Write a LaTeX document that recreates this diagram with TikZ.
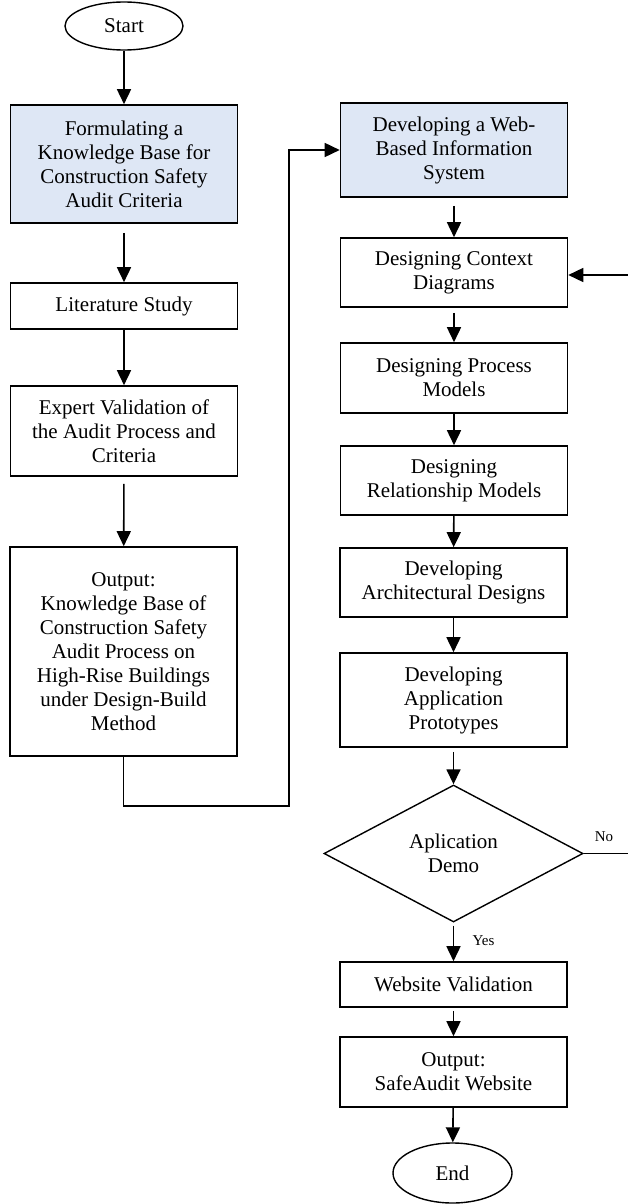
\documentclass[tikz,border=0pt]{standalone}
\usepackage{fontspec}
\setmainfont{Liberation Serif}
\usetikzlibrary{shapes.geometric,arrows.meta}
\definecolor{boxblue}{RGB}{222,231,245}
\begin{document}
\begin{tikzpicture}[x=1pt,y=-1pt,
  every node/.style={font=\fontsize{21}{24}\selectfont, align=center, inner sep=0pt},
  stepbox/.style={draw, line width=1.6pt, minimum width=227pt},
  bluebox/.style={stepbox, fill=boxblue},
  term/.style={draw, line width=1.4pt, ellipse},
  decide/.style={draw, line width=1.4pt, diamond, shape aspect=1.89},
  arr/.style={line width=1.6pt, -{Triangle[width=14pt,length=15pt]}},
  plain/.style={line width=1.6pt},
  lbl/.style={font=\fontsize{15}{17}\selectfont}
]
\useasboundingbox (0,0) rectangle (628,1204);

% left column
\node[term, minimum width=118pt, minimum height=48pt] (start) at (124,26) {Start};
\node[bluebox, minimum height=118pt] (b1) at (124,164) {Formulating a\\Knowledge Base for\\Construction Safety\\Audit Criteria};
\node[stepbox, minimum height=46pt] (b2) at (124,306) {Literature Study};
\node[stepbox, minimum height=90pt] (b3) at (124,431) {Expert Validation of\\the Audit Process and\\Criteria};
\node[stepbox, minimum height=209pt] (b4) at (123.5,651.5) {Output:\\Knowledge Base of\\Construction Safety\\Audit Process on\\High-Rise Buildings\\under Design-Build\\Method};

% right column
\node[bluebox, minimum height=94pt] (b5) at (454,150) {Developing a Web-\\Based Information\\System};
\node[stepbox, minimum height=69pt] (b6) at (454,272.5) {Designing Context\\Diagrams};
\node[stepbox, minimum height=70pt] (b7) at (454,378) {Designing Process\\Models};
\node[stepbox, minimum height=69pt] (b8) at (454,480.5) {Designing\\Relationship Models};
\node[stepbox, minimum height=69pt] (b9) at (453.5,582.5) {Developing\\Architectural Designs};
\node[stepbox, minimum height=94pt] (b10) at (453.5,700) {Developing\\Application\\Prototypes};
\node[decide, minimum width=259pt, minimum height=137pt] (dm) at (453.5,853.5) {Aplication\\Demo};
\node[stepbox, minimum height=45pt] (b11) at (453.5,984.5) {Website Validation};
\node[stepbox, minimum height=70pt] (b12) at (453.5,1072) {Output:\\SafeAudit Website};
\node[term, minimum width=119pt, minimum height=60pt] (end) at (452.5,1173) {End};

% labels
\node[lbl] (yes) at (483.5,941) {Yes};
\node[lbl] (no) at (604,837) {No};

% connectors left
\draw[arr] (start) -- (b1);
\draw[arr, shorten <=9pt] (b1) -- (b2);
\draw[arr] (b2) -- (b3);
\draw[arr, shorten <=7pt] (b3) -- (b4);
\coordinate (c1) at (289,806);
\draw[arr] (b4.south) |- (c1) |- (b5.west);

% connectors right
\draw[arr, shorten <=8pt] (b5) -- (b6);
\draw[arr, shorten <=5pt] (b6) -- (b7);
\draw[arr] (b7) -- (b8);
\draw[arr] (b8) -- (b9);
\draw[arr] (b9) -- (b10);
\draw[arr, shorten <=4pt] (b10) -- (dm);
\draw[arr, shorten <=3pt] (dm) -- (b11);
\draw[arr, shorten <=3pt] (b11) -- (b12);
\draw[arr] (b12) -- (end);

% feedback (No) path, cut at the right edge
\coordinate (r1) at (628,275);
\coordinate (r2) at (628,853.5);
\draw[arr] (r1) -- (b6.east |- r1);
\draw[plain] (dm.east) -- (r2);
\end{tikzpicture}
\end{document}
